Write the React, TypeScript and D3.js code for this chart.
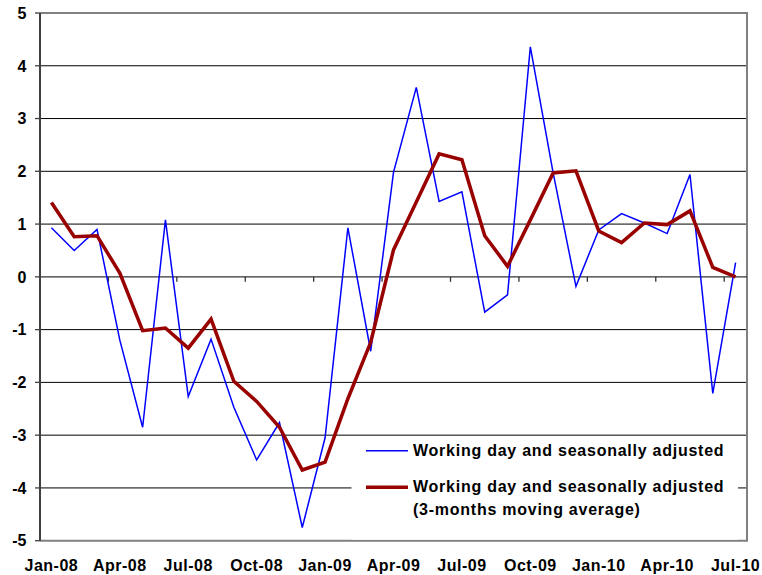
import React, { useEffect, useRef } from "react";
import * as d3 from "d3";

const months = [
  "Jan-08", "Feb-08", "Mar-08", "Apr-08", "May-08", "Jun-08", "Jul-08", "Aug-08",
  "Sep-08", "Oct-08", "Nov-08", "Dec-08", "Jan-09", "Feb-09", "Mar-09", "Apr-09",
  "May-09", "Jun-09", "Jul-09", "Aug-09", "Sep-09", "Oct-09", "Nov-09", "Dec-09",
  "Jan-10", "Feb-10", "Mar-10", "Apr-10", "May-10", "Jun-10", "Jul-10",
];

const tickLabels = [
  "Jan-08", "Apr-08", "Jul-08", "Oct-08", "Jan-09", "Apr-09",
  "Jul-09", "Oct-09", "Jan-10", "Apr-10", "Jul-10",
];

const adjusted = [
  0.93, 0.5, 0.9, -1.2, -2.85, 1.08, -2.27, -1.18, -2.47, -3.47, -2.76, -4.75,
  -3.05, 0.93, -1.41, 1.98, 3.59, 1.43, 1.61, -0.67, -0.34, 4.36, 1.97, -0.18,
  0.89, 1.2, 1.02, 0.82, 1.94, -2.21, 0.27,
];

const movingAvg = [
  1.41, 0.76, 0.78, 0.07, -1.02, -0.97, -1.35, -0.8, -1.98, -2.36, -2.85, -3.66,
  -3.51, -2.31, -1.24, 0.51, 1.42, 2.33, 2.22, 0.78, 0.2, 1.08, 1.97, 2.01,
  0.87, 0.65, 1.02, 0.99, 1.25, 0.18, 0.0,
];

const yTicks = [-5, -4, -3, -2, -1, 0, 1, 2, 3, 4, 5];

const legendLabels = [
  ["Working day and seasonally adjusted"],
  ["Working day and seasonally adjusted", "(3-months moving average)"],
];

const W = 762;
const H = 575;
const FONT = "'Liberation Sans', Arial, sans-serif";

const App = () => {
  const ref = useRef<SVGSVGElement>(null);

  useEffect(() => {
    const svg = d3.select(ref.current);
    svg.selectAll("*").remove();

    const left = 40;
    const right = 747;
    const top = 13;
    const bottom = 540.7;

    const x = d3.scaleBand<string>().domain(months).range([left, right]).padding(0);
    const y = d3.scaleLinear().domain([-5, 5]).range([bottom, top]);
    const cx = (m: string) => (x(m) as number) + x.bandwidth() / 2;

    svg.append("rect").attr("width", W).attr("height", H).attr("fill", "#fff");

    // gridlines
    svg
      .append("g")
      .selectAll("line")
      .data(yTicks.filter((d) => d > -5 && d < 5 && d !== 0))
      .enter()
      .append("line")
      .attr("x1", left)
      .attr("x2", right)
      .attr("y1", (d) => y(d))
      .attr("y2", (d) => y(d))
      .attr("stroke", "#000")
      .attr("stroke-width", 1);

    // plot border (top, right, bottom)
    svg
      .append("path")
      .attr("d", `M${left},${y(5)}H${right}V${y(-5)}H${left}`)
      .attr("fill", "none")
      .attr("stroke", "#808080")
      .attr("stroke-width", 2);

    // zero axis
    svg
      .append("line")
      .attr("x1", left)
      .attr("x2", right)
      .attr("y1", y(0))
      .attr("y2", y(0))
      .attr("stroke", "#333")
      .attr("stroke-width", 1.3);

    // category tick marks every 3 months
    const tickBounds = d3.range(0, months.length + 1, 3).map((i) => left + i * x.bandwidth());
    svg
      .append("g")
      .selectAll("line")
      .data(tickBounds)
      .enter()
      .append("line")
      .attr("x1", (d) => d)
      .attr("x2", (d) => d)
      .attr("y1", y(0))
      .attr("y2", y(0) + 5)
      .attr("stroke", "#333")
      .attr("stroke-width", 1.3);

    // left axis
    svg
      .append("line")
      .attr("x1", left)
      .attr("x2", left)
      .attr("y1", y(5))
      .attr("y2", y(-5))
      .attr("stroke", "#404040")
      .attr("stroke-width", 2);

    svg
      .append("g")
      .selectAll("line")
      .data(yTicks)
      .enter()
      .append("line")
      .attr("x1", left - 5)
      .attr("x2", left)
      .attr("y1", (d) => y(d))
      .attr("y2", (d) => y(d))
      .attr("stroke", "#404040")
      .attr("stroke-width", 1.3);

    // y labels
    svg
      .append("g")
      .selectAll("text")
      .data(yTicks)
      .enter()
      .append("text")
      .attr("x", 26.5)
      .attr("y", (d) => y(d))
      .attr("dy", "0.36em")
      .attr("text-anchor", "end")
      .attr("font-family", FONT)
      .attr("font-weight", "bold")
      .attr("font-size", 16)
      .text((d) => d);

    // x labels
    svg
      .append("g")
      .selectAll("text")
      .data(tickLabels)
      .enter()
      .append("text")
      .attr("x", (d) => cx(d))
      .attr("y", 571)
      .attr("text-anchor", "middle")
      .attr("font-family", FONT)
      .attr("font-weight", "bold")
      .attr("font-size", 16)
      .attr("letter-spacing", 0.5)
      .text((d) => d);

    const line = d3
      .line<number>()
      .x((_, i) => cx(months[i]))
      .y((d) => y(d));

    svg
      .append("path")
      .datum(adjusted)
      .attr("d", line)
      .attr("fill", "none")
      .attr("stroke", "#0000ff")
      .attr("stroke-width", 1.5)
      .attr("stroke-linejoin", "miter");

    svg
      .append("path")
      .datum(movingAvg)
      .attr("d", line)
      .attr("fill", "none")
      .attr("stroke", "#990000")
      .attr("stroke-width", 3.5)
      .attr("stroke-linejoin", "miter");

    // legend
    const lg = svg.append("g");
    lg.append("rect")
      .attr("x", 351.5)
      .attr("y", 436.5)
      .attr("width", 738 - 351.5)
      .attr("height", bottom - 1 - 436.5)
      .attr("fill", "#fff");

    const colors = ["#0000ff", "#990000"];
    const widths = [1.5, 3.5];
    const rowY = [450.7, 487.3];
    legendLabels.forEach((lines, i) => {
      lg.append("line")
        .attr("x1", 366)
        .attr("x2", 408)
        .attr("y1", rowY[i])
        .attr("y2", rowY[i])
        .attr("stroke", colors[i])
        .attr("stroke-width", widths[i]);
      lines.forEach((t, j) => {
        lg.append("text")
          .attr("x", 413)
          .attr("y", rowY[i] + 5 + j * 22.6)
          .attr("font-family", FONT)
          .attr("font-weight", "bold")
          .attr("font-size", 16)
          .attr("letter-spacing", 0.75)
          .text(t);
      });
    });

    return () => {
      svg.selectAll("*").remove();
    };
  }, []);

  return (
    <svg
      ref={ref}
      width={W}
      height={H}
      style={{ position: "absolute", left: 0, top: 0 }}
    ></svg>
  );
};

export default App;
